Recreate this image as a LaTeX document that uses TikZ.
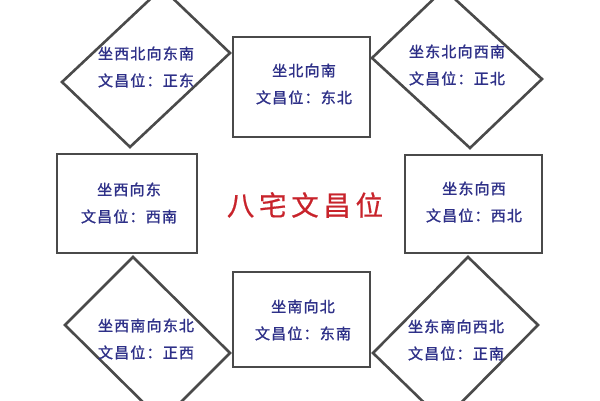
\documentclass[tikz,border=0pt]{standalone}
\usepackage{fontspec}
\newfontfamily\cjkfont[LetterSpace=8,FakeBold=1.3]{Noto Sans CJK SC}
\newfontfamily\cjktitle[LetterSpace=17,FakeBold=0.6]{Noto Sans CJK SC}
\definecolor{txtblue}{HTML}{2E3088}
\definecolor{titlered}{HTML}{C8232B}
\definecolor{edge}{HTML}{4A4A4A}
\tikzset{
  shapeline/.style={draw=edge, line width=2.6pt, line join=miter, fill=white},
  label/.style={text=txtblue, align=center, inner sep=0pt,
    font=\cjkfont\fontsize{15}{27}\selectfont},
  titletext/.style={text=titlered, inner sep=0pt,
    font=\cjktitle\fontsize{27.5}{30}\selectfont}
}
\begin{document}
\begin{tikzpicture}[x=1pt,y=-1pt]
\useasboundingbox (0,0) rectangle (600,400);
\fill[white] (0,0) rectangle (600,400);
\clip (0,0) rectangle (600,400);
% diamonds
\coordinate (tlL) at (62,82);  \coordinate (tlB) at (130,147);
\coordinate (tlR) at (230,53); \coordinate (tlT) at (162,-12);
\coordinate (trL) at (372,58); \coordinate (trB) at (470,148);
\coordinate (trR) at (542,79); \coordinate (trT) at (444,-11);
\coordinate (blT) at (133,257); \coordinate (blL) at (65,325);
\coordinate (blB) at (162,421); \coordinate (blR) at (230,353);
\coordinate (brT) at (468,257); \coordinate (brL) at (373,353);
\coordinate (brB) at (443,421); \coordinate (brR) at (538,325);
\draw[shapeline] (tlL) -- (tlB) -- (tlR) -- (tlT) -- cycle;
\draw[shapeline] (trL) -- (trB) -- (trR) -- (trT) -- cycle;
\draw[shapeline] (blT) -- (blL) -- (blB) -- (blR) -- cycle;
\draw[shapeline] (brT) -- (brL) -- (brB) -- (brR) -- cycle;
% rectangles
\draw[shapeline] (233,37) rectangle (370,137);
\draw[shapeline] (57,154) rectangle (197,253);
\draw[shapeline] (405,155) rectangle (542,253);
\draw[shapeline] (233,272) rectangle (370,367);
% texts
\node[label] (tl) at (146,67) {坐西北向东南\\文昌位：正东};
\node[label] (tc) at (304,84) {坐北向南\\文昌位：东北};
\node[label] (tr) at (457,65) {坐东北向西南\\文昌位：正北};
\node[label] (ml) at (129,203) {坐西向东\\文昌位：西南};
\node[label] (mr) at (474,202) {坐东向西\\文昌位：西北};
\node[label] (bl) at (146,339) {坐西南向东北\\文昌位：正西};
\node[label] (bc) at (303,320) {坐南向北\\文昌位：东南};
\node[label] (br) at (456,340) {坐东南向西北\\文昌位：正南};
\node[titletext] (title) at (305,205) {八宅文昌位};
\end{tikzpicture}
\end{document}
